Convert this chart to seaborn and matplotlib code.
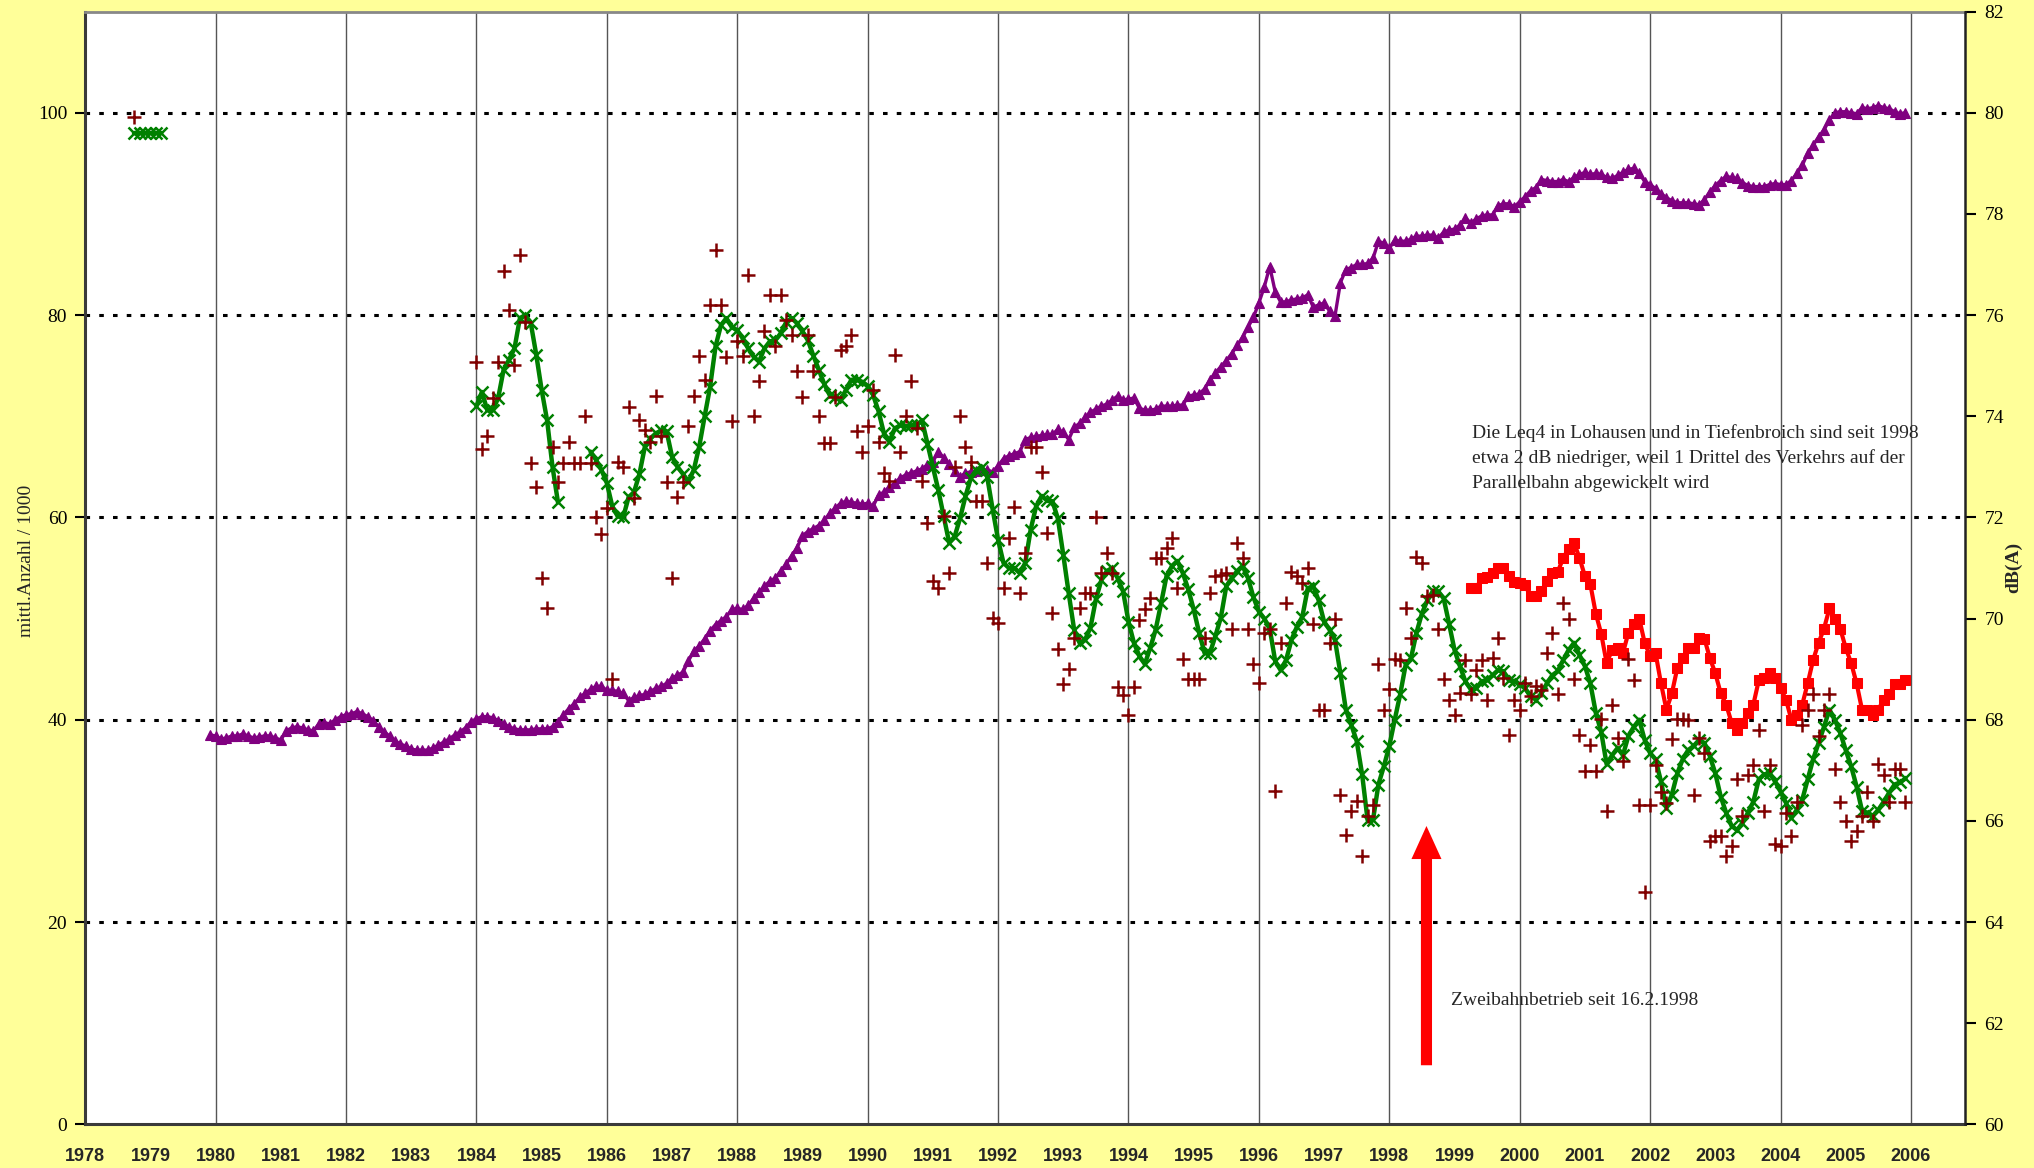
import matplotlib
matplotlib.use("Agg")
import matplotlib.pyplot as plt
import numpy as np
import pandas as pd
import seaborn as sns

nan = np.nan

# mittl. Anzahl / 1000 (left axis), monthly from Dec 1979
flights = [
    38.5,
    38.4, 38.1, 38.2, 38.4, 38.4, 38.6, 38.4, 38.2, 38.3, 38.4, 38.4, 38.2,
    38.0, 38.9, 39.2, 39.3, 39.2, 39.0, 38.9, 39.6, 39.7, 39.6, 40.0, 40.3,
    40.5, 40.6, 40.8, 40.6, 40.3, 39.9, 39.3, 38.8, 38.4, 37.9, 37.6, 37.4,
    37.1, 37.0, 37.0, 37.0, 37.2, 37.5, 37.8, 38.1, 38.5, 38.8, 39.2, 39.8,
    40.1, 40.3, 40.3, 40.2, 39.9, 39.6, 39.3, 39.1, 39.0, 39.0, 39.0, 39.1,
    39.1, 39.1, 39.3, 39.8, 40.5, 41.1, 41.6, 42.2, 42.6, 43.0, 43.3, 43.3,
    42.9, 42.9, 42.8, 42.6, 41.9, 42.2, 42.4, 42.5, 42.8, 43.1, 43.3, 43.6,
    44.1, 44.4, 44.7, 45.8, 46.8, 47.3, 48.0, 48.8, 49.4, 49.8, 50.2, 50.9,
    51.0, 50.9, 51.3, 52.0, 52.6, 53.2, 53.7, 54.0, 54.7, 55.4, 56.2, 57.0,
    58.2, 58.6, 58.9, 59.2, 59.7, 60.4, 60.9, 61.4, 61.6, 61.5, 61.4, 61.3,
    61.4, 61.1, 62.2, 62.5, 63.0, 63.4, 63.9, 64.2, 64.4, 64.6, 64.8, 65.2,
    65.5, 66.5, 65.9, 65.3, 64.6, 64.0, 64.4, 64.5, 64.6, 64.7, 64.7, 64.5,
    65.1, 65.8, 66.1, 66.3, 66.5, 67.7, 67.9, 68.0, 68.1, 68.2, 68.2, 68.7,
    68.4, 67.7, 68.9, 69.3, 69.9, 70.4, 70.7, 71.0, 71.2, 71.6, 72.0, 71.6,
    71.7, 71.8, 70.8, 70.6, 70.6, 70.7, 71.0, 71.0, 71.0, 71.1, 71.1, 72.0,
    72.1, 72.2, 72.7, 73.6, 74.3, 74.9, 75.5, 76.2, 77.0, 77.8, 78.8, 79.8,
    81.2, 82.8, 84.8, 82.3, 81.3, 81.3, 81.5, 81.6, 81.7, 82.0, 80.8, 81.0,
    81.2, 80.4, 79.9, 83.2, 84.5, 84.7, 85.0, 85.0, 85.1, 85.6, 87.3, 87.1,
    86.6, 87.4, 87.3, 87.3, 87.5, 87.8, 87.8, 87.9, 87.9, 87.6, 88.2, 88.4,
    88.5, 88.9, 89.6, 89.1, 89.5, 89.8, 89.9, 89.9, 90.8, 91.0, 91.0, 90.7,
    91.2, 91.7, 92.3, 92.6, 93.4, 93.3, 93.2, 93.2, 93.4, 93.2, 93.6, 93.9,
    94.1, 93.9, 94.0, 93.9, 93.6, 93.5, 93.8, 94.1, 94.4, 94.5, 94.0, 93.2,
    92.9, 92.5, 92.0, 91.6, 91.3, 91.1, 91.1, 91.1, 91.0, 90.9, 91.4, 92.2,
    92.8, 93.3, 93.7, 93.6, 93.5, 93.1, 92.8, 92.7, 92.7, 92.7, 92.9, 93.0,
    92.9, 92.9, 93.3, 94.0, 94.8, 96.0, 96.8, 97.6, 98.3, 99.3, 100.0, 100.1,
    100.1, 100.0, 99.9, 100.5, 100.4, 100.5, 100.7, 100.5, 100.4, 100.1, 99.9, 100.0,
]

# Leq smoothed (green, dB), monthly from Jan 1984
leq_smooth = [
    74.20, 74.48, 74.12, 74.12, 74.36, 74.92, 75.12, 75.34, 75.94, 76.00, 75.84, 75.22,
    74.52, 73.92, 73.00, 72.30, nan, nan, nan, nan, nan, 73.30, 73.14, 72.94,
    72.68, 72.22, 72.02, 72.00, 72.40, 72.50, 72.86, 73.40, 73.56, 73.66, 73.72, 73.70,
    73.20, 73.00, 72.86, 72.70, 72.94, 73.40, 74.00, 74.58, 75.38, 75.80, 75.94, 75.76,
    75.70, 75.54, 75.34, 75.18, 75.08, 75.34, 75.48, 75.50, 75.64, 75.86, 75.94, 75.84,
    75.68, 75.50, 75.20, 74.92, 74.64, 74.42, 74.38, 74.32, 74.52, 74.72, 74.72, 74.68,
    74.60, 74.42, 74.10, 73.66, 73.50, 73.76, 73.82, 73.80, 73.82, 73.82, 73.92, 73.46,
    73.00, 72.54, 72.02, 71.50, 71.62, 71.98, 72.42, 72.78, 72.94, 73.00, 72.80, 72.16,
    71.56, 71.10, 71.00, 71.00, 70.90, 71.10, 71.76, 72.22, 72.42, 72.34, 72.32, 71.98,
    71.26, 70.50, 69.78, 69.52, 69.58, 69.82, 70.38, 70.76, 70.94, 71.00, 70.80, 70.54,
    69.94, 69.52, 69.26, 69.10, 69.42, 69.78, 70.30, 70.84, 71.04, 71.14, 70.90, 70.58,
    70.18, 69.72, 69.32, 69.32, 69.66, 70.02, 70.64, 70.80, 70.94, 71.04, 70.80, 70.42,
    70.14, 70.00, 69.80, 69.16, 68.98, 69.18, 69.58, 69.84, 70.04, 70.60, 70.64, 70.36,
    69.94, 69.78, 69.58, 68.92, 68.20, 67.90, 67.58, 66.92, 66.02, 66.02, 66.72, 67.08,
    67.48, 68.00, 68.50, 69.08, 69.22, 69.72, 70.10, 70.36, 70.54, 70.54, 70.40, 69.90,
    69.38, 69.06, 68.76, 68.60, 68.62, 68.76, 68.78, 68.88, 68.98, 68.96, 68.78, 68.76,
    68.70, 68.62, 68.46, 68.40, 68.52, 68.72, 68.88, 68.96, 69.18, 69.38, 69.52, 69.28,
    69.06, 68.72, 68.14, 67.76, 67.12, 67.30, 67.44, 67.30, 67.68, 67.86, 68.00, 67.60,
    67.34, 67.22, 66.78, 66.26, 66.52, 66.94, 67.22, 67.40, 67.48, 67.60, 67.54, 67.28,
    66.94, 66.48, 66.16, 65.90, 65.82, 65.96, 66.16, 66.38, 66.82, 66.92, 66.94, 66.78,
    66.58, 66.36, 66.06, 66.22, 66.42, 66.82, 67.22, 67.54, 67.86, 68.20, 68.00, 67.74,
    67.40, 67.08, 66.68, 66.20, 66.16, 66.10, 66.22, 66.38, 66.56, 66.72, 66.76, 66.84,
]

# Leq monthly values (dark red crosses, dB), from Jan 1984
leq_month = [
    75.08, 73.36, 73.60, 74.36, 75.08, 76.88, 76.10, 75.02, 77.18, 75.86, 73.08, 72.60,
    70.80, 70.20, 73.40, 72.70, 73.08, 73.50, 73.08, 73.08, 74.00, 73.08, 72.00, 71.68,
    72.18, 68.80, 73.10, 73.00, 74.18, 72.38, 73.92, 73.72, 73.50, 74.40, 73.60, 72.70,
    70.80, 72.40, 72.70, 73.80, 74.40, 75.20, 74.72, 76.20, 77.28, 76.20, 75.18, 73.90,
    75.48, 75.20, 76.80, 74.00, 74.70, 75.68, 76.40, 75.38, 76.40, 75.90, 75.60, 74.90,
    74.38, 75.60, 74.90, 74.00, 73.48, 73.48, 74.38, 75.30, 75.38, 75.60, 73.70, 73.30,
    73.80, 74.52, 73.50, 72.88, 72.72, 75.22, 73.30, 74.00, 74.70, 73.76, 72.72, 71.88,
    70.74, 70.60, 72.02, 70.90, 73.00, 74.00, 73.40, 73.10, 72.32, 72.32, 71.10, 70.02,
    69.92, 70.60, 71.60, 72.20, 70.50, 71.30, 73.40, 73.40, 72.90, 71.70, 70.12, 69.40,
    68.70, 69.00, 69.62, 70.20, 70.50, 70.50, 72.00, 70.90, 71.30, 70.90, 68.64, 68.48,
    68.10, 68.64, 69.98, 70.18, 70.40, 71.20, 71.20, 71.40, 71.60, 70.60, 69.20, 68.80,
    68.80, 68.80, 69.62, 70.50, 70.84, 70.86, 70.90, 69.80, 71.50, 71.20, 69.80, 69.10,
    68.72, 69.72, 69.80, 66.60, 69.52, 70.30, 70.92, 70.84, 70.70, 71.00, 69.90, 68.20,
    68.20, 69.52, 70.00, 66.52, 65.72, 66.20, 66.40, 65.30, 66.10, 66.32, 69.10, 68.20,
    68.60, 69.20, 69.18, 70.20, 69.62, 71.22, 71.10, 70.44, 70.46, 69.80, 68.80, 68.40,
    68.10, 68.52, 69.18, 68.50, 68.98, 69.18, 68.40, 69.22, 69.62, 68.82, 67.70, 68.40,
    68.20, 68.72, 68.46, 68.66, 68.58, 69.32, 69.72, 68.50, 70.30, 70.00, 68.80, 67.70,
    66.98, 67.50, 66.98, 68.02, 66.20, 68.30, 67.64, 67.18, 69.20, 68.78, 66.32, 64.60,
    66.32, 67.10, 66.58, 66.36, 67.62, 68.02, 68.02, 68.00, 66.52, 67.64, 67.34, 65.60,
    65.70, 65.70, 65.30, 65.50, 66.82, 66.10, 66.90, 67.10, 67.80, 66.20, 67.10, 65.54,
    65.50, 66.16, 65.70, 66.38, 67.90, 68.20, 68.50, 67.68, 68.20, 68.50, 67.02, 66.38,
    66.00, 65.60, 65.80, 66.10, 66.58, 66.00, 67.12, 66.90, 66.38, 67.02, 67.02, 66.38,
]

# Leq with parallel runway (red squares, dB), monthly from Apr 1999
leq_parallel = [
    70.60, 70.60, 70.80, 70.82, 70.90, 71.00, 71.00, 70.84, 70.72,
    70.70, 70.66, 70.44, 70.44, 70.54, 70.74, 70.90, 70.92, 71.20, 71.38, 71.50, 71.20,
    70.84, 70.68, 70.10, 69.70, 69.12, 69.38, 69.42, 69.32, 69.72, 69.90, 70.00, 69.52,
    69.26, 69.32, 68.72, 68.20, 68.52, 69.02, 69.22, 69.42, 69.42, 69.62, 69.60, 69.22,
    68.92, 68.52, 68.30, 67.94, 67.80, 67.94, 68.14, 68.30, 68.78, 68.82, 68.92, 68.82,
    68.62, 68.40, 68.00, 68.10, 68.30, 68.72, 69.18, 69.52, 69.80, 70.20, 70.00, 69.80,
    69.42, 69.12, 68.72, 68.20, 68.20, 68.10, 68.20, 68.40, 68.50, 68.70, 68.70, 68.78,
]

# isolated early values (late 1978 / early 1979)
leq_smooth_1979 = [79.6, 79.6, 79.6, 79.6, 79.6, 79.6]
leq_month_1978 = [79.92]

year_labels = list(range(1978, 2007))
left_ticks = [0, 20, 40, 60, 80, 100]
right_ticks = list(range(60, 83, 2))

BG = "#FFFF99"
PURPLE = "#800080"
GREEN = "#008000"
DARKRED = "#800000"
RED = "#FF0000"


def months(y0, m0, n):
    return [y0 + (m0 - 1 + k) / 12 for k in range(n)]


sns.set_style("white")
plt.rcParams["font.family"] = ["Liberation Serif", "DejaVu Serif"]

fig = plt.figure(figsize=(20.34, 11.68), dpi=100, facecolor=BG)
ax = fig.add_axes([0.0419, 0.0373, 0.9242, 0.9528])
ax.set_facecolor("white")
ax2 = ax.twinx()

# grid
for y in left_ticks[1:]:
    ax.axhline(y, color="black", lw=2.2, ls=(0, (1.5, 3.0)), zorder=1)
for yr in range(1980, 2007, 2):
    ax.axvline(yr, color="#555555", lw=1.0, zorder=1)

# flights (left axis)
df_f = pd.DataFrame({"t": months(1979, 12, len(flights)), "n": flights})
sns.lineplot(data=df_f, x="t", y="n", ax=ax, color=PURPLE, lw=2.4, marker="^",
             ms=6.5, mec=PURPLE, mew=0.8, estimator=None, sort=False, zorder=3)

# red squares (right axis)
df_r = pd.DataFrame({"t": months(1999, 4, len(leq_parallel)), "db": leq_parallel})
sns.lineplot(data=df_r, x="t", y="db", ax=ax2, color=RED, lw=3.0, marker="s",
             ms=6.5, mec=RED, estimator=None, sort=False, zorder=3)

# green smoothed, split where data is missing
g = pd.DataFrame({"t": months(1984, 1, len(leq_smooth)), "db": leq_smooth})
g["seg"] = g["db"].isna().cumsum()
g0 = pd.DataFrame({"t": months(1978, 10, len(leq_smooth_1979)), "db": leq_smooth_1979})
g0["seg"] = -1
g = pd.concat([g0, g.dropna()], ignore_index=True)
sns.lineplot(data=g, x="t", y="db", units="seg", estimator=None, ax=ax2, color=GREEN,
             lw=3.2, marker="x", ms=8, mew=1.8, mec=GREEN, mfc=GREEN, sort=False,
             zorder=4)

# monthly crosses
c = pd.DataFrame({"t": months(1978, 10, 1) + months(1984, 1, len(leq_month)),
                  "db": leq_month_1978 + leq_month})
sns.scatterplot(data=c, x="t", y="db", ax=ax2, marker="+", s=100, color=DARKRED,
                linewidth=1.8, zorder=5, legend=False)

# axes
ax.set_xlim(1978, 2006.83)
ax.set_ylim(0, 110)
ax2.set_ylim(60, 82)
ax.set_yticks(left_ticks)
ax2.set_yticks(right_ticks)
ax.set_xticks(year_labels)
ax.set_xticklabels([str(y) for y in year_labels], fontfamily="Liberation Sans",
                   fontweight="bold", fontsize=13)
ax.set_xlabel("")
ax.set_ylabel("")
ax2.set_xlabel("")
ax2.set_ylabel("")
ax.tick_params(axis="x", length=0, pad=17)
ax.tick_params(axis="y", direction="out", length=7, width=1.5, pad=6, labelsize=14,
               left=True, colors="black")
ax2.tick_params(axis="y", direction="out", length=8, width=1.5, pad=6, labelsize=14,
                right=True, colors="black")

for s in ["left", "bottom"]:
    ax.spines[s].set_color("#3a3a3a")
    ax.spines[s].set_linewidth(2.2)
ax.spines["top"].set_color("#888888")
ax.spines["top"].set_linewidth(2.0)
ax.spines["right"].set_visible(False)
for s in ["left", "bottom", "top"]:
    ax2.spines[s].set_visible(False)
ax2.spines["right"].set_color("#222222")
ax2.spines["right"].set_linewidth(1.8)

fig.text(0.0128, 0.52, "mittl.Anzahl / 1000", rotation=90, ha="center", va="center",
         fontsize=14)
fig.text(0.990, 0.5146, "dB(A)", rotation=90, ha="center", va="center",
         fontsize=14, fontweight="bold")

# annotations
note = ["Die Leq4 in Lohausen und in Tiefenbroich sind seit 1998",
        "etwa 2 dB niedriger, weil 1 Drittel des Verkehrs auf der",
        "Parallelbahn abgewickelt wird"]
for k, line in enumerate(note):
    ax.text(1999.27, 67.87 - 2.46 * k, line, fontsize=14, va="baseline", ha="left",
            zorder=6)
ax.text(1998.95, 11.8, "Zweibahnbetrieb seit 16.2.1998", fontsize=14,
        va="baseline", ha="left", zorder=6)
ax.annotate("", xy=(1998.57, 29.5), xytext=(1998.57, 5.85),
            arrowprops=dict(arrowstyle="simple,head_length=1.19,head_width=1.08,tail_width=0.4",
                            mutation_scale=20, color=RED, lw=0, shrinkA=0, shrinkB=0),
            zorder=6)

fig.savefig("out.png", dpi=100, facecolor=BG)
